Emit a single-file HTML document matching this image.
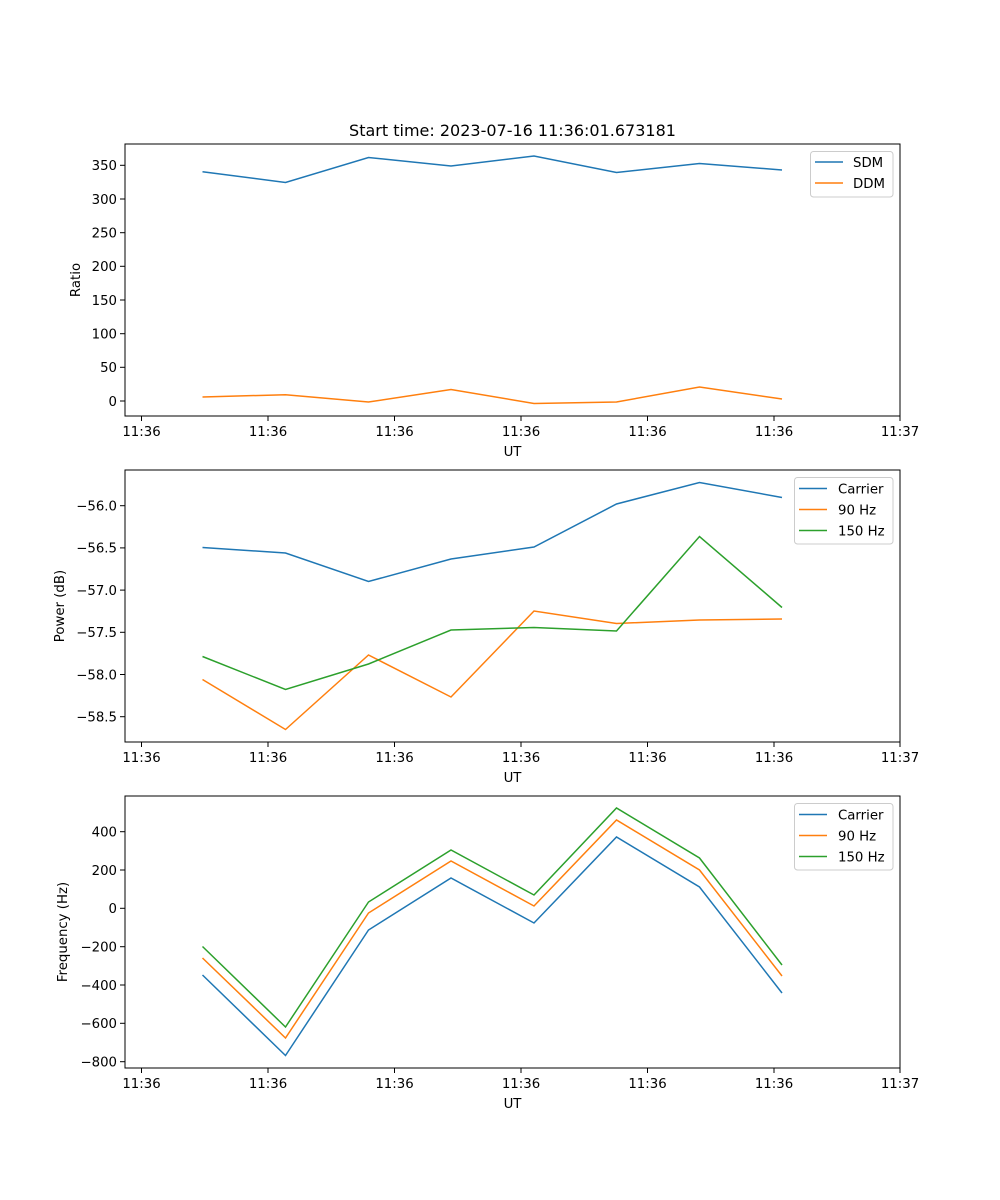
<!DOCTYPE html>
<html><head><meta charset="utf-8"><style>body{margin:0;background:#fff}svg{display:block}text{font-family:"DejaVu Sans","Liberation Sans",sans-serif;font-size:13.3px;fill:#000}</style></head>
<body>
<svg width="1000" height="1200" xmlns="http://www.w3.org/2000/svg">
<rect width="1000" height="1200" fill="#fff"/>
<text x="512.5" y="136" text-anchor="middle" style="font-size:16px">Start time: 2023-07-16 11:36:01.673181</text>

<!-- Axes 1 -->
<g stroke="#000" stroke-width="1">
<line x1="141.5" y1="416" x2="141.5" y2="421"/><line x1="268" y1="416" x2="268" y2="421"/><line x1="394.5" y1="416" x2="394.5" y2="421"/><line x1="521" y1="416" x2="521" y2="421"/><line x1="647.5" y1="416" x2="647.5" y2="421"/><line x1="774" y1="416" x2="774" y2="421"/><line x1="900" y1="416" x2="900" y2="421"/>
<line x1="120" y1="401" x2="125" y2="401"/><line x1="120" y1="367.3" x2="125" y2="367.3"/><line x1="120" y1="333.7" x2="125" y2="333.7"/><line x1="120" y1="300" x2="125" y2="300"/><line x1="120" y1="266.3" x2="125" y2="266.3"/><line x1="120" y1="232.7" x2="125" y2="232.7"/><line x1="120" y1="199" x2="125" y2="199"/><line x1="120" y1="165.3" x2="125" y2="165.3"/>
</g>
<g text-anchor="end">
<text x="117" y="406">0</text><text x="117" y="372">50</text><text x="117" y="338.5">100</text><text x="117" y="305">150</text><text x="117" y="271">200</text><text x="117" y="237.5">250</text><text x="117" y="204">300</text><text x="117" y="170">350</text>
</g>
<g text-anchor="middle">
<text x="141.5" y="436">11:36</text><text x="268" y="436">11:36</text><text x="394.5" y="436">11:36</text><text x="521" y="436">11:36</text><text x="647.5" y="436">11:36</text><text x="774" y="436">11:36</text><text x="900" y="436">11:37</text>
<text x="512.5" y="456">UT</text>
</g>
<text transform="translate(80,280) rotate(-90)" text-anchor="middle">Ratio</text>
<polyline fill="none" stroke="#1f77b4" stroke-width="1.5" points="202.5,171.7 285.5,182.5 368.5,157.5 451,166 534,156 616.5,172.5 699.5,163.5 782,170"/>
<polyline fill="none" stroke="#ff7f0e" stroke-width="1.5" points="202.5,397 285.5,394.7 368.5,402 451,389.5 534,403.5 616.5,402 699.5,387 782,399"/>
<rect x="125" y="144" width="775" height="272" fill="none" stroke="#000" stroke-width="1"/>
<rect x="810.5" y="151.5" width="82.5" height="45.5" rx="3" fill="#fff" fill-opacity="0.8" stroke="#ccc"/>
<line x1="815" y1="162" x2="843" y2="162" stroke="#1f77b4" stroke-width="1.5"/><text x="853" y="167">SDM</text>
<line x1="815" y1="183" x2="843" y2="183" stroke="#ff7f0e" stroke-width="1.5"/><text x="853" y="188">DDM</text>

<!-- Axes 2 -->
<g stroke="#000" stroke-width="1">
<line x1="141.5" y1="742" x2="141.5" y2="747"/><line x1="268" y1="742" x2="268" y2="747"/><line x1="394.5" y1="742" x2="394.5" y2="747"/><line x1="521" y1="742" x2="521" y2="747"/><line x1="647.5" y1="742" x2="647.5" y2="747"/><line x1="774" y1="742" x2="774" y2="747"/><line x1="900" y1="742" x2="900" y2="747"/>
<line x1="120" y1="505.7" x2="125" y2="505.7"/><line x1="120" y1="547.9" x2="125" y2="547.9"/><line x1="120" y1="590.1" x2="125" y2="590.1"/><line x1="120" y1="632.3" x2="125" y2="632.3"/><line x1="120" y1="674.5" x2="125" y2="674.5"/><line x1="120" y1="716.7" x2="125" y2="716.7"/>
</g>
<g text-anchor="end">
<text x="117" y="510.5">−56.0</text><text x="117" y="552.7">−56.5</text><text x="117" y="594.9">−57.0</text><text x="117" y="637.1">−57.5</text><text x="117" y="679.3">−58.0</text><text x="117" y="721.5">−58.5</text>
</g>
<g text-anchor="middle">
<text x="141.5" y="762">11:36</text><text x="268" y="762">11:36</text><text x="394.5" y="762">11:36</text><text x="521" y="762">11:36</text><text x="647.5" y="762">11:36</text><text x="774" y="762">11:36</text><text x="900" y="762">11:37</text>
<text x="512.5" y="782">UT</text>
</g>
<text transform="translate(64,606) rotate(-90)" text-anchor="middle">Power (dB)</text>
<polyline fill="none" stroke="#1f77b4" stroke-width="1.5" points="202.5,547.5 285.5,553 368.5,581.5 451,559 534,547 616.5,504 699.5,482.5 782,497.5"/>
<polyline fill="none" stroke="#ff7f0e" stroke-width="1.5" points="202.5,679.5 285.5,729.5 368.5,655 451,697 534,611 616.5,623.5 699.5,620 782,619"/>
<polyline fill="none" stroke="#2ca02c" stroke-width="1.5" points="202.5,656.5 285.5,689.5 368.5,664 451,630 534,627.5 616.5,631 699.5,536.5 782,607.5"/>
<rect x="125" y="470" width="775" height="272" fill="none" stroke="#000" stroke-width="1"/>
<rect x="794.5" y="477.5" width="98.5" height="66.5" rx="3" fill="#fff" fill-opacity="0.8" stroke="#ccc"/>
<line x1="799" y1="488.5" x2="827" y2="488.5" stroke="#1f77b4" stroke-width="1.5"/><text x="838" y="493.5">Carrier</text>
<line x1="799" y1="509.5" x2="827" y2="509.5" stroke="#ff7f0e" stroke-width="1.5"/><text x="838" y="514.5">90 Hz</text>
<line x1="799" y1="530.5" x2="827" y2="530.5" stroke="#2ca02c" stroke-width="1.5"/><text x="838" y="535.5">150 Hz</text>

<!-- Axes 3 -->
<g stroke="#000" stroke-width="1">
<line x1="141.5" y1="1068" x2="141.5" y2="1073"/><line x1="268" y1="1068" x2="268" y2="1073"/><line x1="394.5" y1="1068" x2="394.5" y2="1073"/><line x1="521" y1="1068" x2="521" y2="1073"/><line x1="647.5" y1="1068" x2="647.5" y2="1073"/><line x1="774" y1="1068" x2="774" y2="1073"/><line x1="900" y1="1068" x2="900" y2="1073"/>
<line x1="120" y1="831.7" x2="125" y2="831.7"/><line x1="120" y1="870" x2="125" y2="870"/><line x1="120" y1="908.3" x2="125" y2="908.3"/><line x1="120" y1="946.7" x2="125" y2="946.7"/><line x1="120" y1="985" x2="125" y2="985"/><line x1="120" y1="1023.3" x2="125" y2="1023.3"/><line x1="120" y1="1061.7" x2="125" y2="1061.7"/>
</g>
<g text-anchor="end">
<text x="117" y="836.5">400</text><text x="117" y="875">200</text><text x="117" y="913">0</text><text x="117" y="951.5">−200</text><text x="117" y="990">−400</text><text x="117" y="1028">−600</text><text x="117" y="1066.5">−800</text>
</g>
<g text-anchor="middle">
<text x="141.5" y="1088">11:36</text><text x="268" y="1088">11:36</text><text x="394.5" y="1088">11:36</text><text x="521" y="1088">11:36</text><text x="647.5" y="1088">11:36</text><text x="774" y="1088">11:36</text><text x="900" y="1088">11:37</text>
<text x="512.5" y="1108">UT</text>
</g>
<text transform="translate(67,932) rotate(-90)" text-anchor="middle">Frequency (Hz)</text>
<polyline fill="none" stroke="#1f77b4" stroke-width="1.5" points="202.5,975 285.5,1055.5 368.5,930 451,878 534,923 616.5,837 699.5,887 782,993"/>
<polyline fill="none" stroke="#ff7f0e" stroke-width="1.5" points="202.5,958 285.5,1038 368.5,913 451,861 534,906 616.5,820 699.5,870 782,976"/>
<polyline fill="none" stroke="#2ca02c" stroke-width="1.5" points="202.5,946.5 285.5,1027 368.5,902 451,850 534,895 616.5,808 699.5,858 782,965"/>
<rect x="125" y="796" width="775" height="272" fill="none" stroke="#000" stroke-width="1"/>
<rect x="794.5" y="803.5" width="98.5" height="66.5" rx="3" fill="#fff" fill-opacity="0.8" stroke="#ccc"/>
<line x1="799" y1="814.5" x2="827" y2="814.5" stroke="#1f77b4" stroke-width="1.5"/><text x="838" y="819.5">Carrier</text>
<line x1="799" y1="835.5" x2="827" y2="835.5" stroke="#ff7f0e" stroke-width="1.5"/><text x="838" y="840.5">90 Hz</text>
<line x1="799" y1="856.5" x2="827" y2="856.5" stroke="#2ca02c" stroke-width="1.5"/><text x="838" y="861.5">150 Hz</text>
</svg>
</body></html>
